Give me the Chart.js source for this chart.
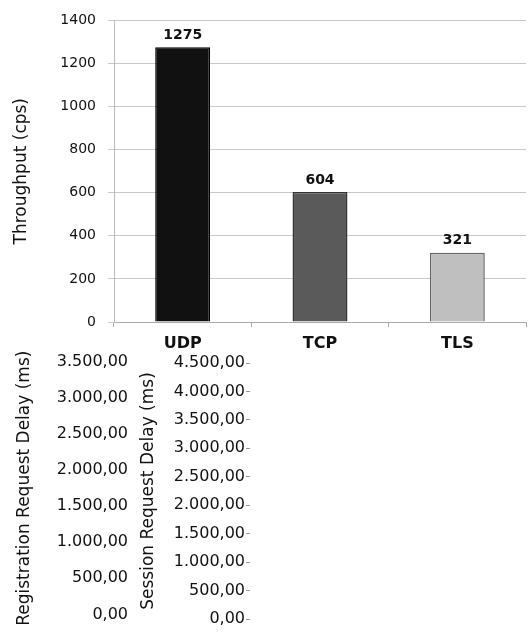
<!DOCTYPE html>
<html>
<head>
<meta charset="utf-8">
<script src="https://cdn.jsdelivr.net/npm/chart.js@4"></script>
<style>
  body { margin: 0; background: #fff; }
  #wrap { position: relative; width: 528px; height: 632px; overflow: hidden; }
  canvas { position: absolute; }
  #throughputChart { left: 0px; top: 0px; }
  #regChart { left: 0px; top: 340px; }
  #sessChart { left: 136px; top: 340px; }
</style>
</head>
<body>
<div id="wrap">
  <canvas id="throughputChart" width="528" height="360"></canvas>
  <canvas id="regChart" width="137" height="290"></canvas>
  <canvas id="sessChart" width="120" height="290"></canvas>
</div>
<script>
// Data
const protocols = ['UDP', 'TCP', 'TLS'];
const throughput = [1275, 604, 321];
const barColors = ['#111111', '#5a5a5a', '#bfbfbf'];
const barBorders = ['#000000', '#333333', '#666666'];

// y-axis ranges (min, max, step)
const throughputAxis = [0, 1400, 200];
const regDelayAxis = [0, 3500, 500];
const sessDelayAxis = [0, 4500, 500];

const FONT = "'DejaVu Sans', sans-serif";
const TEXT = '#111111';

// 3500 -> "3.500,00"
function formatDe(v) {
  const parts = Math.abs(v).toFixed(2).split('.');
  const intPart = parts[0].replace(/\B(?=(\d{3})+(?!\d))/g, '.');
  return intPart + ',' + parts[1];
}

// Värden ovanför staplarna
const valueLabels = {
  id: 'valueLabels',
  afterDatasetsDraw(chart) {
    const ctx = chart.ctx;
    ctx.save();
    ctx.font = 'bold 14px ' + FONT;
    ctx.fillStyle = TEXT;
    ctx.textAlign = 'center';
    ctx.textBaseline = 'bottom';
    chart.getDatasetMeta(0).data.forEach((bar, i) => {
      ctx.fillText(chart.data.datasets[0].data[i], bar.x, bar.y - 5);
    });
    ctx.restore();
  }
};

new Chart(document.getElementById('throughputChart'), {
  type: 'bar',
  data: {
    labels: protocols,
    datasets: [{
      data: throughput,
      backgroundColor: barColors,
      borderColor: barBorders,
      borderWidth: 1.5,
      categoryPercentage: 1,
      barPercentage: 0.4
    }]
  },
  options: {
    responsive: false,
    animation: false,
    layout: { padding: { top: 17, right: 2, left: 0, bottom: 0 } },
    plugins: { legend: { display: false }, tooltip: { enabled: false } },
    scales: {
      x: {
        offset: true,
        grid: { offset: true, drawOnChartArea: false, tickLength: 5, color: '#aaaaaa' },
        border: { color: '#aaaaaa' },
        ticks: { padding: 7, color: TEXT, font: { family: FONT, size: 16, weight: 'bold' } },
        afterFit(scale) { scale.height = 38; }
      },
      y: {
        min: throughputAxis[0],
        max: throughputAxis[1],
        ticks: {
          stepSize: throughputAxis[2],
          padding: 12,
          color: TEXT,
          font: { family: FONT, size: 14 },
          callback: v => String(v)
        },
        grid: { color: '#c8c8c8', tickLength: 6 },
        border: { color: '#bbbbbb' },
        title: {
          display: true,
          text: 'Throughput (cps)',
          color: TEXT,
          padding: { top: 11, bottom: 0 },
          font: { family: FONT, size: 17 }
        },
        afterFit(scale) { scale.width = 114; }
      }
    }
  },
  plugins: [valueLabels]
});

// Axlar för fördröjningsdiagrammen (bara y-axeln syns)
function delayAxisChart(id, axis, titleText, opts) {
  return new Chart(document.getElementById(id), {
    type: 'bar',
    data: { labels: protocols, datasets: [] },
    options: {
      responsive: false,
      animation: false,
      layout: { padding: { top: opts.top, bottom: opts.bottom, left: 0, right: 0 } },
      plugins: { legend: { display: false }, tooltip: { enabled: false } },
      scales: {
        x: { display: false },
        y: {
          min: axis[0],
          max: axis[1],
          ticks: {
            stepSize: axis[2],
            padding: opts.tickPad,
            color: TEXT,
            font: { family: FONT, size: 16 },
            callback: v => formatDe(v)
          },
          grid: {
            drawOnChartArea: false,
            drawTicks: opts.tickLen > 0,
            tickLength: opts.tickLen,
            color: '#999999'
          },
          border: { display: false },
          title: {
            display: true,
            text: titleText,
            color: TEXT,
            padding: { top: opts.titlePad, bottom: 0 },
            font: { family: FONT, size: 17 }
          },
          afterFit(scale) { scale.width = opts.width; }
        }
      }
    }
  });
}

delayAxisChart('regChart', regDelayAxis, 'Registration Request Delay (ms)',
  { top: 22, bottom: 11, tickPad: 6, tickLen: 0, titlePad: 14, width: 134 });
delayAxisChart('sessChart', sessDelayAxis, 'Session Request Delay (ms)',
  { top: 23, bottom: 11, tickPad: 1, tickLen: 4, titlePad: 2, width: 114 });
</script>
</body>
</html>
